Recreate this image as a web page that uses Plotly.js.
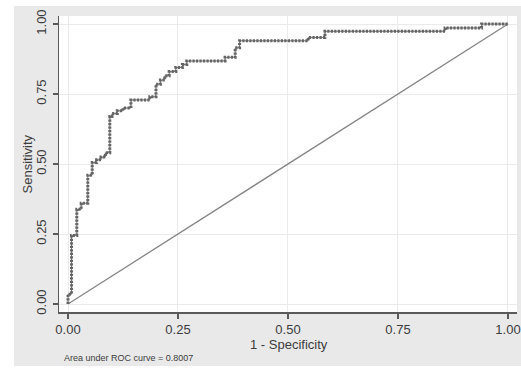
<!DOCTYPE html>
<html>
<head>
<meta charset="utf-8">
<script src="https://cdn.plot.ly/plotly-3.0.1.min.js"></script>
<style>
  html, body { margin: 0; padding: 0; background: #ffffff; width: 521px; height: 372px; overflow: hidden; }
  #chart { position: absolute; left: 14px; top: 6px; width: 507px; height: 360px; }
</style>
</head>
<body>
<div id="chart"></div>
<script>
// ROC curve corner points (1 - Specificity, Sensitivity)
const rocFPR = [0, 0, 0.008, 0.008, 0.02, 0.02, 0.03, 0.03, 0.045, 0.045, 0.055, 0.055,
  0.065, 0.065, 0.075, 0.075, 0.085, 0.085, 0.095, 0.095, 0.1, 0.1, 0.112, 0.112, 0.125, 0.125,
  0.143, 0.143, 0.186, 0.186, 0.2, 0.2, 0.21, 0.21, 0.22, 0.22, 0.23, 0.23, 0.245, 0.245,
  0.26, 0.26, 0.27, 0.27, 0.357, 0.357, 0.38, 0.38, 0.39, 0.39, 0.546, 0.546, 0.584, 0.584,
  0.857, 0.857, 0.94, 0.94, 1];
const rocTPR = [0, 0.035, 0.035, 0.245, 0.245, 0.338, 0.338, 0.36, 0.36, 0.46, 0.46, 0.505,
  0.505, 0.515, 0.515, 0.525, 0.525, 0.54, 0.54, 0.67, 0.67, 0.68, 0.68, 0.69, 0.69, 0.70,
  0.70, 0.729, 0.729, 0.74, 0.74, 0.785, 0.785, 0.80, 0.80, 0.815, 0.815, 0.83, 0.83, 0.845,
  0.845, 0.855, 0.855, 0.868, 0.868, 0.881, 0.881, 0.915, 0.915, 0.94, 0.94, 0.952, 0.952, 0.974,
  0.974, 0.986, 0.986, 1.0, 1.0];
// Reference (chance) line
const diagX = [0, 1];
const diagY = [0, 1];
// Axis ticks
const tickVals = [0, 0.25, 0.5, 0.75, 1];
const tickText = ["0.00", "0.25", "0.50", "0.75", "1.00"];
const xTitle = "1 - Specificity";
const yTitle = "Sensitivity";
const aucText = "Area under ROC curve = 0.8007";

const font = "Liberation Sans, Arial, sans-serif";

const traces = [
  { x: diagX, y: diagY, type: "scatter", mode: "lines",
    line: { color: "#858585", width: 1.3 }, hoverinfo: "skip", showlegend: false },
  { x: rocFPR, y: rocTPR, type: "scatter", mode: "lines",
    line: { color: "#727272", width: 1 }, hoverinfo: "skip", showlegend: false },
  { x: rocFPR, y: rocTPR, type: "scatter", mode: "lines",
    line: { color: "#656565", width: 3, dash: "2.2px,1.3px" }, hoverinfo: "skip", showlegend: false }
];

const axisCommon = {
  tickvals: tickVals, ticktext: tickText,
  showline: true, linecolor: "#5a5a5a", linewidth: 1.5,
  ticks: "outside", ticklen: 5, tickwidth: 1.3, tickcolor: "#5a5a5a",
  showgrid: true, gridcolor: "#ebebeb", gridwidth: 1,
  zeroline: false, automargin: false,
  tickfont: { family: font, size: 13, color: "#3c3c3c" }
};

const layout = {
  width: 507, height: 360,
  margin: { l: 45, r: 4, t: 10, b: 54 },
  paper_bgcolor: "#e9e9e9",
  plot_bgcolor: "#ffffff",
  showlegend: false,
  xaxis: Object.assign({}, axisCommon, { range: [-0.02045, 1.0205] }),
  yaxis: Object.assign({}, axisCommon, { range: [-0.02857, 1.02857], tickangle: -90, ticklabelstandoff: 1 }),
  annotations: [
    { text: xTitle, xref: "paper", yref: "paper", x: 0.502, y: -0.11,
      xanchor: "center", yanchor: "middle", showarrow: false,
      font: { family: font, size: 13, color: "#3c3c3c" } },
    { text: yTitle, xref: "paper", yref: "paper", x: -0.069, y: 0.5, textangle: -90,
      xanchor: "center", yanchor: "middle", showarrow: false,
      font: { family: font, size: 13, color: "#3c3c3c" } },
    { text: aucText, xref: "paper", yref: "paper", x: 0.006, y: -0.157,
      xanchor: "left", yanchor: "middle", showarrow: false,
      font: { family: font, size: 9, color: "#3c3c3c" } }
  ]
};

Plotly.newPlot("chart", traces, layout, { staticPlot: true, displayModeBar: false });
</script>
</body>
</html>
